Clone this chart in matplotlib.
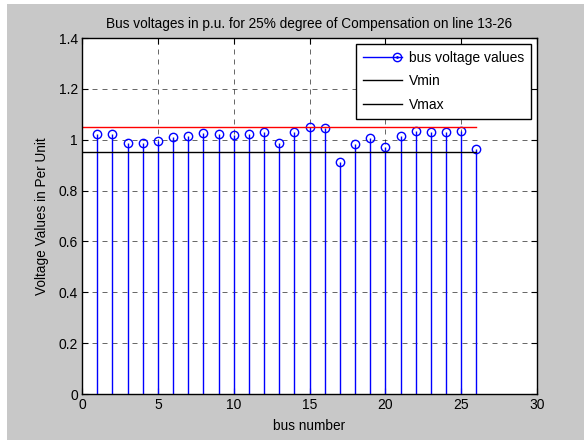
import matplotlib.pyplot as plt
from matplotlib.lines import Line2D
from matplotlib.patches import Rectangle
from matplotlib.legend_handler import HandlerLine2D

plt.rcParams['font.family'] = ['Liberation Sans', 'DejaVu Sans']

bus = list(range(1, 27))
voltage = [1.022, 1.022, 0.987, 0.987, 0.996, 1.011, 1.013, 1.026, 1.022, 1.018,
           1.022, 1.029, 0.988, 1.029, 1.051, 1.047, 0.914, 0.983, 1.005, 0.970,
           1.014, 1.033, 1.029, 1.029, 1.033, 0.964]
vmin = 0.95
vmax = 1.05


class MarkerAtEnd(HandlerLine2D):
    # matlab style legend entry: line with the marker on its right end
    def create_artists(self, legend, orig_handle, xdescent, ydescent, width, height, fontsize, trans):
        y = height / 2 - ydescent
        line = Line2D([-xdescent, width - xdescent], [y, y], color=orig_handle.get_color(), linewidth=1)
        mark = Line2D([width - xdescent - 4], [y], color=orig_handle.get_color(), marker='o',
                      markerfacecolor='none', markersize=6, linestyle='none')
        dot = Line2D([width - xdescent - 4], [y], color=orig_handle.get_color(), marker='.',
                     markersize=2, linestyle='none')
        for a in (line, mark, dot):
            a.set_transform(trans)
        return [line, mark, dot]


fig = plt.figure(figsize=(5.84, 4.40), dpi=100, facecolor='white')
fig.patches.append(Rectangle((7 / 584, 0), 1, 1 - 4 / 440, transform=fig.transFigure,
                             facecolor='#c8c8c8', edgecolor='none', zorder=-10))
ax = fig.add_axes([82 / 584, 1 - 394 / 440, (537 - 82) / 584, (394 - 38) / 440])
ax.set_facecolor('white')

ml, sl, bl = ax.stem(bus, voltage, basefmt=' ')
plt.setp(sl, color='blue', linewidth=1)
plt.setp(ml, color='blue', markerfacecolor='none', markersize=6, markeredgewidth=1)

ax.plot([0, 26], [vmin, vmin], color='black', linewidth=1)
ax.plot([0, 26], [vmax, vmax], color='red', linewidth=1)

ax.set_xlim(0, 30)
ax.set_ylim(0, 1.4)
ax.set_xticks(range(0, 31, 5))
ax.set_yticks([0, 0.2, 0.4, 0.6, 0.8, 1, 1.2, 1.4])
ax.set_yticklabels(['0', '0.2', '0.4', '0.6', '0.8', '1', '1.2', '1.4'])
ax.grid(True, linestyle=(0, (6, 6)), color='black', linewidth=0.6, alpha=0.7)
ax.tick_params(direction='in', labelsize=10, length=4, top=True, right=True, pad=3)
for s in ax.spines.values():
    s.set_linewidth(1)

ax.set_title('Bus voltages in p.u. for 25% degree of Compensation on line 13-26', fontsize=9.8, pad=7)
ax.set_xlabel('bus number', fontsize=9.8, labelpad=5)
ax.set_ylabel('Voltage Values in Per Unit', fontsize=9.8, labelpad=7)

h_bus = Line2D([0], [0], color='blue')
h_min = Line2D([0], [0], color='black', linewidth=1)
h_max = Line2D([0], [0], color='black', linewidth=1)
leg = ax.legend([h_bus, h_min, h_max], ['bus voltage values', 'Vmin', 'Vmax'], loc='upper right',
                fontsize=10, fancybox=False, edgecolor='black', framealpha=1,
                borderaxespad=0.4, handlelength=2.8, handletextpad=0.5, labelspacing=0.7,
                borderpad=0.5, handler_map={h_bus: MarkerAtEnd()})
leg.get_frame().set_linewidth(1)

fig.savefig('out.png', dpi=100, facecolor=fig.get_facecolor())
